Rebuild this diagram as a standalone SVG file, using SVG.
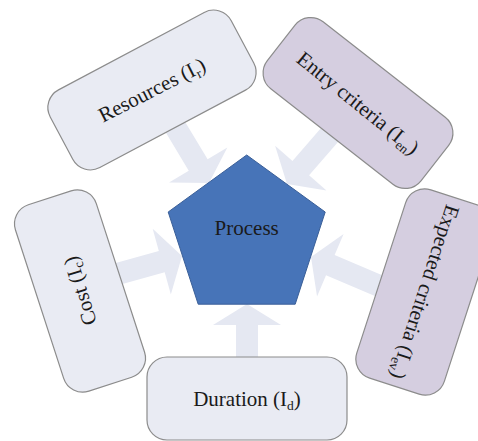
<svg xmlns="http://www.w3.org/2000/svg" width="478" height="441" viewBox="0 0 478 441">
<defs>
<style>
.box{stroke:#8c8c8c;stroke-width:1.2}
.light{fill:#e9ebf3}
.lav{fill:#d5cee0}
.arrow{fill:#e5e8f2;stroke:none}
.lbl{font-family:"Liberation Serif","Times New Roman",serif;font-size:21px;fill:#1a1a1a;text-anchor:middle}
.sub{font-size:13.5px}
</style>
<polygon id="blockArrow" points="0,0 -21,-34 -21,-11 -90,-11 -90,11 -21,11 -21,34"/>
</defs>
<rect width="478" height="441" fill="#ffffff"/>
<g id="connectors">
<use href="#blockArrow" class="arrow" transform="translate(247,304) rotate(-90)"/>
<use href="#blockArrow" class="arrow" transform="translate(182,256) rotate(-15.5)"/>
<use href="#blockArrow" class="arrow" transform="translate(209,183) rotate(59)"/>
<use href="#blockArrow" class="arrow" transform="translate(287,184) rotate(131)"/>
<use href="#blockArrow" class="arrow" transform="translate(311,257) rotate(203)"/>
</g>
<g id="resources" transform="translate(152,90)">
<rect class="box light" x="-102.5" y="-44" width="205" height="88" rx="20" transform="rotate(-28)"/>
<text class="lbl" transform="rotate(-27)" x="0" y="7">Resources (I<tspan class="sub" dy="4">r</tspan><tspan dy="-4">)</tspan></text>
</g>
<g id="entry" transform="translate(358,103)">
<rect class="box lav" x="-97.5" y="-42.5" width="195" height="85" rx="20" transform="rotate(38)"/>
<text class="lbl" transform="rotate(39)" x="0" y="7">Entry criteria (I<tspan class="sub" dy="4">en</tspan><tspan dy="-4">)</tspan></text>
</g>
<g id="expected" transform="translate(425,292)">
<rect class="box lav" x="-99" y="-46" width="198" height="92" rx="20" transform="rotate(108)"/>
<text class="lbl" transform="rotate(108)" x="0" y="7">Expected criteria (I<tspan class="sub" dy="4">ev</tspan><tspan dy="-4">)</tspan></text>
</g>
<g id="cost" transform="translate(80,291)">
<rect class="box light" x="-98" y="-42.5" width="196" height="85" rx="20" transform="rotate(-108)"/>
<text class="lbl" transform="rotate(-107)" x="0" y="7">Cost (I<tspan class="sub" dy="4">c</tspan><tspan dy="-4">)</tspan></text>
</g>
<g id="duration">
<rect class="box light" x="147" y="357" width="200" height="83" rx="20"/>
<text class="lbl" x="247" y="406">Duration (I<tspan class="sub" dy="4">d</tspan><tspan dy="-4">)</tspan></text>
</g>
<g id="process">
<polygon points="246.7,155 325.2,212 295.2,304.2 198.2,304.2 168.2,212" fill="#4774b8" stroke="#3a5f98" stroke-width="1"/>
<text class="lbl" x="246.7" y="235">Process</text>
</g>
</svg>
